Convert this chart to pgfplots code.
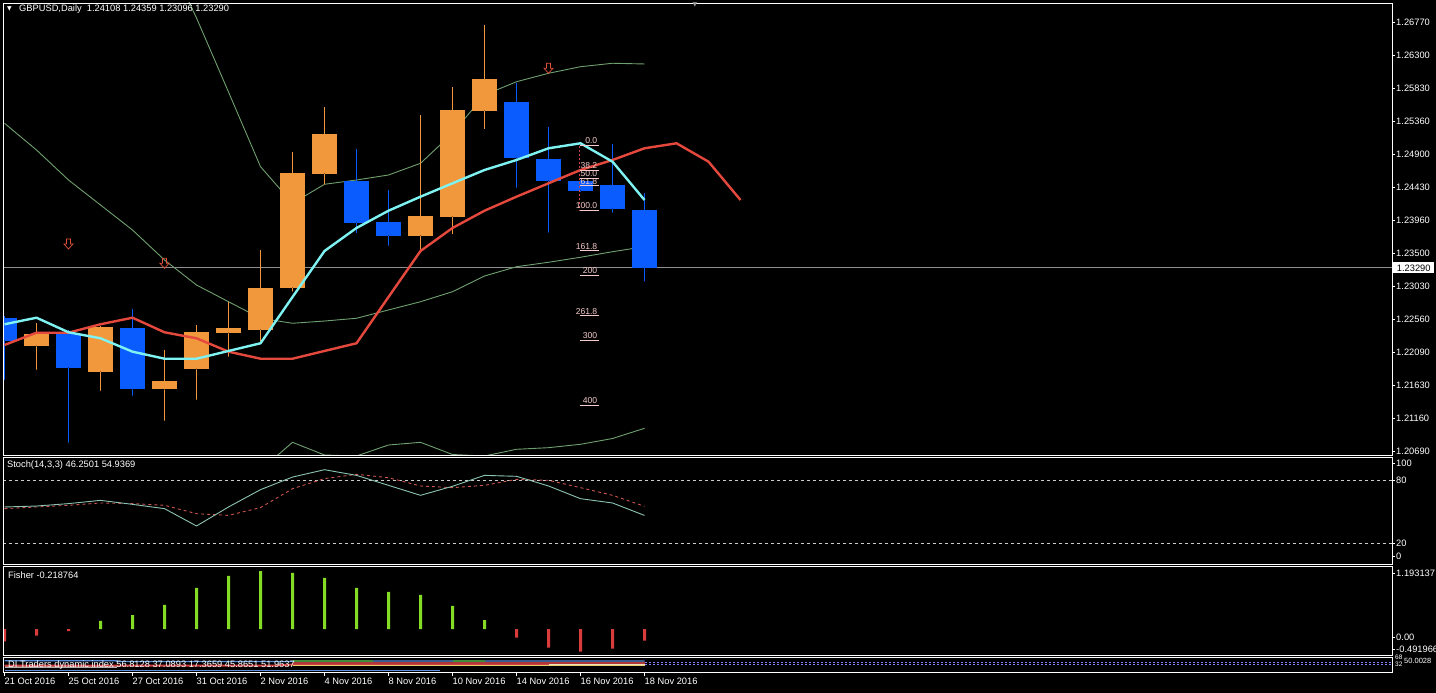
\documentclass[border=0pt]{standalone}
\usepackage{pgfplots}
\pgfplotsset{compat=1.18}
\usepackage{pgfplotstable}
\usepackage{fontspec}
\setmainfont{Liberation Sans}
\newfontfamily\dejavu{DejaVu Sans}
\newcommand{\chartfont}{\fontsize{9.3}{10}\selectfont}

\definecolor{bull}{HTML}{F2983C}
\definecolor{bear}{HTML}{0B5CFF}
\definecolor{macyan}{HTML}{7FF2F2}
\definecolor{mared}{HTML}{E5483C}
\definecolor{bandgreen}{HTML}{6FA06F}
\definecolor{fibtxt}{HTML}{F4CACA}
\definecolor{fibred}{HTML}{D04545}
\definecolor{stochmain}{HTML}{8CC4B4}
\definecolor{stochsig}{HTML}{CC5550}
\definecolor{fgreen}{HTML}{86DC24}
\definecolor{fred}{HTML}{DA3C3C}
\definecolor{pricegrey}{HTML}{8E8E8E}
\definecolor{arrowred}{HTML}{E0503A}
\definecolor{tdiblue}{HTML}{5A8EDC}
\definecolor{tdired}{HTML}{D04040}
\definecolor{tdidred}{HTML}{B03838}
\definecolor{tdigreen}{HTML}{3C8C3C}
\definecolor{tdiyellow}{HTML}{E8D070}
\definecolor{tdicream}{HTML}{F0E0C0}
\definecolor{tdigrey}{HTML}{B0B0B0}
\definecolor{tdipurple}{HTML}{8080FF}

\pgfdeclareplotmark{fdown}{%
  \pgfpathmoveto{\pgfqpoint{-2pt}{5pt}}%
  \pgfpathlineto{\pgfqpoint{2pt}{5pt}}%
  \pgfpathlineto{\pgfqpoint{2pt}{0pt}}%
  \pgfpathlineto{\pgfqpoint{4.5pt}{0pt}}%
  \pgfpathlineto{\pgfqpoint{0pt}{-5pt}}%
  \pgfpathlineto{\pgfqpoint{-4.5pt}{0pt}}%
  \pgfpathlineto{\pgfqpoint{-2pt}{0pt}}%
  \pgfpathclose
  \pgfusepathqstroke}

% candles: x = bar index (0 = 21 Oct 2016)
\pgfplotstableread{
x O H L C
1 1.22180 1.22503 1.21840 1.22351
3 1.21816 1.22464 1.21542 1.22454
5 1.21566 1.22124 1.21116 1.21684
6 1.21854 1.22479 1.21414 1.22375
7 1.22365 1.22801 1.22029 1.22436
8 1.22412 1.23543 1.22241 1.23004
9 1.23008 1.24934 1.22951 1.24636
10 1.24626 1.25578 1.24466 1.25194
13 1.23746 1.25460 1.23543 1.24026
14 1.24016 1.25853 1.23766 1.25531
15 1.25521 1.26737 1.25257 1.25966
}\bulltab
\pgfplotstableread{
x O H L C
0 1.22582 1.22606 1.21698 1.22256
2 1.22351 1.22408 1.20808 1.21872
4 1.22440 1.22710 1.21475 1.21570
11 1.24523 1.24973 1.23780 1.23931
12 1.23941 1.24395 1.23600 1.23746
16 1.25644 1.25918 1.24428 1.24854
17 1.24835 1.25285 1.23789 1.24527
18 1.24523 1.24537 1.24367 1.24385
19 1.24466 1.25048 1.24073 1.24130
20 1.24108 1.24359 1.23096 1.23290
}\beartab
\pgfplotstableread{
x y
0 1.22489
1 1.22582
2 1.22375
3 1.22290
4 1.22100
5 1.22000
6 1.22000
7 1.22110
8 1.22219
9 1.22876
10 1.23529
11 1.23856
12 1.24101
13 1.24300
14 1.24490
15 1.24679
16 1.24821
17 1.24987
18 1.25058
19 1.24797
20 1.24253
}\cyantab
\pgfplotstableread{
x y
0 1.22195
1 1.22369
2 1.22369
3 1.22489
4 1.22582
5 1.22375
6 1.22290
7 1.22100
8 1.22000
9 1.22000
10 1.22110
11 1.22219
12 1.22876
13 1.23529
14 1.23856
15 1.24101
16 1.24300
17 1.24490
18 1.24679
19 1.24821
20 1.24987
21 1.25058
22 1.24797
23 1.24253
}\redtab
\pgfplotstableread{
x y
0 1.25342
1 1.24963
2 1.24537
3 1.24182
4 1.23827
5 1.23401
6 1.23046
7 1.22809
8 1.22574
9 1.22503
10 1.22535
11 1.22574
12 1.22692
13 1.22809
14 1.22951
15 1.23174
16 1.23306
17 1.23369
18 1.23440
19 1.23519
20 1.23590
}\midtab
\pgfplotstableread{
x y
5 1.27802
6 1.26837
7 1.25786
8 1.24726
9 1.24206
10 1.24476
11 1.24537
12 1.24608
13 1.24774
14 1.25200
15 1.25744
16 1.25932
17 1.26052
18 1.26145
19 1.26194
20 1.26184
}\uptab
\pgfplotstableread{
x y
8 1.20420
9 1.20813
10 1.20633
11 1.20619
12 1.20775
13 1.20813
14 1.20640
15 1.20619
16 1.20714
17 1.20737
18 1.20785
19 1.20867
20 1.21012
}\lowtab
\pgfplotstableread{
x m s
0 54.3 52.7
1 55.2 54.3
2 57.5 55.9
3 60.6 58.1
4 56.8 57.5
5 52.7 55.9
6 36.2 47.9
7 54.3 46.3
8 70.8 53.7
9 82.8 71.7
10 89.8 81.3
11 84.4 85.4
12 74.9 82.2
13 65.4 74.3
14 74.0 72.7
15 84.4 74.9
16 83.5 80.6
17 74.3 79.7
18 62.2 72.7
19 58.1 65.4
20 46.2501 54.9369
}\stochtab

\pgfplotsset{
  mtpanel/.style={
    scale only axis, anchor=south west, width=1389pt,
    xmin=-0.046875, xmax=43.359375,
    axis line style={white, line width=0.9pt},
    tick style={white, line width=0.8pt},
    tick align=outside, major tick length=2.5pt,
    ytick pos=right, yticklabel pos=right,
    xtick=\empty,
    clip mode=individual,
    axis on top,
    scaled y ticks=false,
    ticklabel style={font=\chartfont, text=white},
    yticklabel style={anchor=west, inner sep=0pt, xshift=1.5pt},
  },
  candle/.style={only marks, mark=none, mark options={draw=none, fill=none, scale=0.01}},
}

\begin{document}
\begin{tikzpicture}[x=1pt,y=1pt]
\fill[black] (0,0) rectangle (1436,693);

% ---------------- main price panel ----------------
\begin{axis}[mtpanel, at={(3pt,238pt)}, height=452pt,
  ymin=1.206331, ymax=1.270497,
  ytick={1.206799,1.211484,1.216168,1.220853,1.225538,1.230222,1.234907,1.239592,1.244277,1.248961,1.253646,1.258331,1.263015,1.267700},
  yticklabels={1.20690,1.21160,1.21630,1.22090,1.22560,1.23030,1.23500,1.23960,1.24430,1.24900,1.25360,1.25830,1.26300,1.26770}]
% current price line
\addplot[pricegrey, line width=0.9pt] coordinates {(-1,1.23290) (44,1.23290)};
% bands
\addplot[bandgreen, line width=0.9pt] table[x=x,y=y] {\uptab};
\addplot[bandgreen, line width=0.9pt] table[x=x,y=y] {\midtab};
\addplot[bandgreen, line width=0.9pt] table[x=x,y=y] {\lowtab};
% wicks
\addplot[candle, error bars/.cd, y dir=plus, y explicit, error mark=none,
  error bar style={draw=bull, line width=1pt}]
  table[x=x, y=L, y error plus expr=\thisrow{H}-\thisrow{L}] {\bulltab};
\addplot[candle, error bars/.cd, y dir=plus, y explicit, error mark=none,
  error bar style={draw=bear, line width=1pt}]
  table[x=x, y=L, y error plus expr=\thisrow{H}-\thisrow{L}] {\beartab};
% bodies
\addplot[candle, error bars/.cd, y dir=plus, y explicit, error mark=none,
  error bar style={draw=bull, line width=25pt}]
  table[x=x, y=O, y error plus expr=\thisrow{C}-\thisrow{O}] {\bulltab};
\addplot[candle, error bars/.cd, y dir=plus, y explicit, error mark=none,
  error bar style={draw=bear, line width=25pt}]
  table[x=x, y=C, y error plus expr=\thisrow{O}-\thisrow{C}] {\beartab};
% moving averages
\addplot[mared, line width=2.4pt, line join=round] table[x=x,y=y] {\redtab};
\addplot[macyan, line width=2.4pt, line join=round] table[x=x,y=y] {\cyantab};
% fractal arrows
\addplot[only marks, mark=fdown, mark options={draw=arrowred, fill=none, line width=0.7pt}] coordinates {(2,1.23628) (5,1.23354) (17,1.26123)};
% fibonacci
\addplot[fibred, line width=0.8pt, dash pattern=on 2pt off 2pt] coordinates {(17.98,1.25024) (17.98,1.24101)};
\addplot[fibtxt, line width=0.8pt, unbounded coords=jump] coordinates {
 (17.98,1.25024) (18.58,1.25024) (18.3,nan)
 (17.98,1.24671) (18.58,1.24671) (18.3,nan)
 (17.98,1.24562) (18.58,1.24562) (18.3,nan)
 (17.98,1.24454) (18.58,1.24454) (18.3,nan)
 (17.98,1.24101) (18.58,1.24101) (18.3,nan)
 (17.98,1.23531) (18.58,1.23531) (18.3,nan)
 (17.98,1.23178) (18.58,1.23178) (18.3,nan)
 (17.98,1.22608) (18.58,1.22608) (18.3,nan)
 (17.98,1.22255) (18.58,1.22255) (18.3,nan)
 (17.98,1.21332) (18.58,1.21332)};
\begin{scope}[every node/.style={anchor=south east, inner sep=0pt, yshift=1.5pt, text=fibtxt, font=\fontsize{8.6}{9}\selectfont}]
\node at (axis cs:18.53,1.25024) {0.0};
\node at (axis cs:18.53,1.24671) {38.2};
\node at (axis cs:18.53,1.24562) {50.0};
\node at (axis cs:18.53,1.24454) {61.8};
\node at (axis cs:18.53,1.24101) {100.0};
\node at (axis cs:18.53,1.23531) {161.8};
\node at (axis cs:18.53,1.23178) {200};
\node at (axis cs:18.53,1.22608) {261.8};
\node at (axis cs:18.53,1.22255) {300};
\node at (axis cs:18.53,1.21332) {400};
\end{scope}
% price box
\node[anchor=west, fill=white, text=black, inner sep=0pt, minimum width=41pt, minimum height=11pt, font=\chartfont, xshift=1pt] at (axis cs:43.359375,1.23290) {1.23290};
\end{axis}

% ---------------- stochastic ----------------
\begin{axis}[mtpanel, at={(3pt,129pt)}, height=107pt,
  ymin=0, ymax=101.9,
  ytick={7,20,80,96.2}, yticklabels={0,20,80,100}]
\addplot[white!80!black, line width=0.8pt, dash pattern=on 3pt off 3pt] coordinates {(-1,80) (44,80)};
\addplot[white!80!black, line width=0.8pt, dash pattern=on 3pt off 3pt] coordinates {(-1,20) (44,20)};
\addplot[stochsig, line width=0.9pt, dash pattern=on 3pt off 3pt] table[x=x,y=s] {\stochtab};
\addplot[stochmain, line width=0.9pt] table[x=x,y=m] {\stochtab};
\end{axis}

% ---------------- fisher ----------------
\begin{axis}[mtpanel, at={(3pt,38pt)}, height=89pt,
  ymin=-0.491966, ymax=1.193137,
  ytick={-0.384,-0.165,1.060}, yticklabels={-0.491966,0.00,1.193137}]
\addplot[ybar, bar width=3pt, bar shift=0pt, fill=fgreen, draw=none] coordinates {
 (3,0.152) (4,0.265) (5,0.455) (6,0.777) (7,1.004) (8,1.098) (9,1.061) (10,0.966)
 (11,0.777) (12,0.701) (13,0.644) (14,0.436) (15,0.170)};
\addplot[ybar, bar width=3pt, bar shift=0pt, fill=fred, draw=none] coordinates {
 (0,-0.233) (1,-0.127) (2,-0.038) (16,-0.165) (17,-0.354) (18,-0.429) (19,-0.372) (20,-0.218764)};
\end{axis}

% ---------------- traders dynamic index ----------------
\begin{axis}[mtpanel, at={(3pt,21pt)}, height=15pt,
  ymin=5, ymax=100, ytick=\empty,
  xtick={0,2,4,6,8,10,12,14,16,18,20},
  xticklabels={21 Oct 2016,25 Oct 2016,27 Oct 2016,31 Oct 2016,2 Nov 2016,4 Nov 2016,8 Nov 2016,10 Nov 2016,14 Nov 2016,16 Nov 2016,18 Nov 2016},
  xtick pos=left, major tick length=4pt,
  xticklabel style={anchor=north west, inner sep=0pt, yshift=-2pt}]
\addplot[tdipurple, line width=0.8pt, dash pattern=on 2pt off 2pt] coordinates {(20,68) (44,68)};
\addplot[tdipurple, line width=0.8pt, dash pattern=on 2pt off 2pt] coordinates {(20,50) (44,50)};
\addplot[tdiblue, line width=1.2pt] coordinates {(0,76) (3.5,76) (3.5,72) (9,72) (10,74) (20,74)};
\addplot[tdiblue, line width=1.2pt] coordinates {(0,13) (13.6,13)};
\addplot[tdigrey, line width=3pt] coordinates {(0,40) (3.5,40)};
\addplot[tdired, line width=2pt] coordinates {(0,46) (8.5,46) (9,52) (14,56) (20,56)};
\addplot[tdidred, line width=2pt] coordinates {(9,62) (20,62)};
\addplot[tdigreen, line width=2pt] coordinates {(9,72) (11.5,72)};
\addplot[tdigreen, line width=2pt] coordinates {(14,74) (15,74)};
\addplot[tdiyellow, line width=1pt] coordinates {(9,44) (17,44) (17,47) (20,47)};
\addplot[tdicream, line width=1pt] coordinates {(17,50) (20,50)};
\end{axis}

% ---------------- texts ----------------
\node[anchor=west, inner sep=0pt, text=white, font=\dejavu\fontsize{6}{7}\selectfont] at (7,684) {▼};
\node[anchor=west, inner sep=0pt, text=white, font=\chartfont] at (19,684) {GBPUSD,Daily\ \ 1.24108 1.24359 1.23096 1.23290};
\node[inner sep=0pt, text=white!60!black, font=\dejavu\fontsize{6}{7}\selectfont] at (695,688.5) {▼};
\node[anchor=west, inner sep=0pt, text=white, font=\chartfont] at (7,227.7) {Stoch(14,3,3) 46.2501 54.9369};
\node[anchor=west, inner sep=0pt, text=white, font=\chartfont] at (8,117.5) {Fisher -0.218764};
\node[anchor=west, inner sep=0pt, text=white, font=\chartfont] at (8,28) {DI Traders dynamic index 56.8128 37.0893 17.3659 45.8651 51.9637};
\node[anchor=west, inner sep=0pt, text=white, font=\fontsize{6.5}{7}\selectfont] at (1395,36) {68};
\node[anchor=west, inner sep=0pt, text=white, font=\fontsize{6.5}{7}\selectfont] at (1395,29) {32};
\node[anchor=west, inner sep=0pt, text=white, font=\fontsize{7.5}{8}\selectfont] at (1404,32.5) {50.0028};

\pgfresetboundingbox
\useasboundingbox (0,0) rectangle (1436,693);
\end{tikzpicture}
\end{document}
